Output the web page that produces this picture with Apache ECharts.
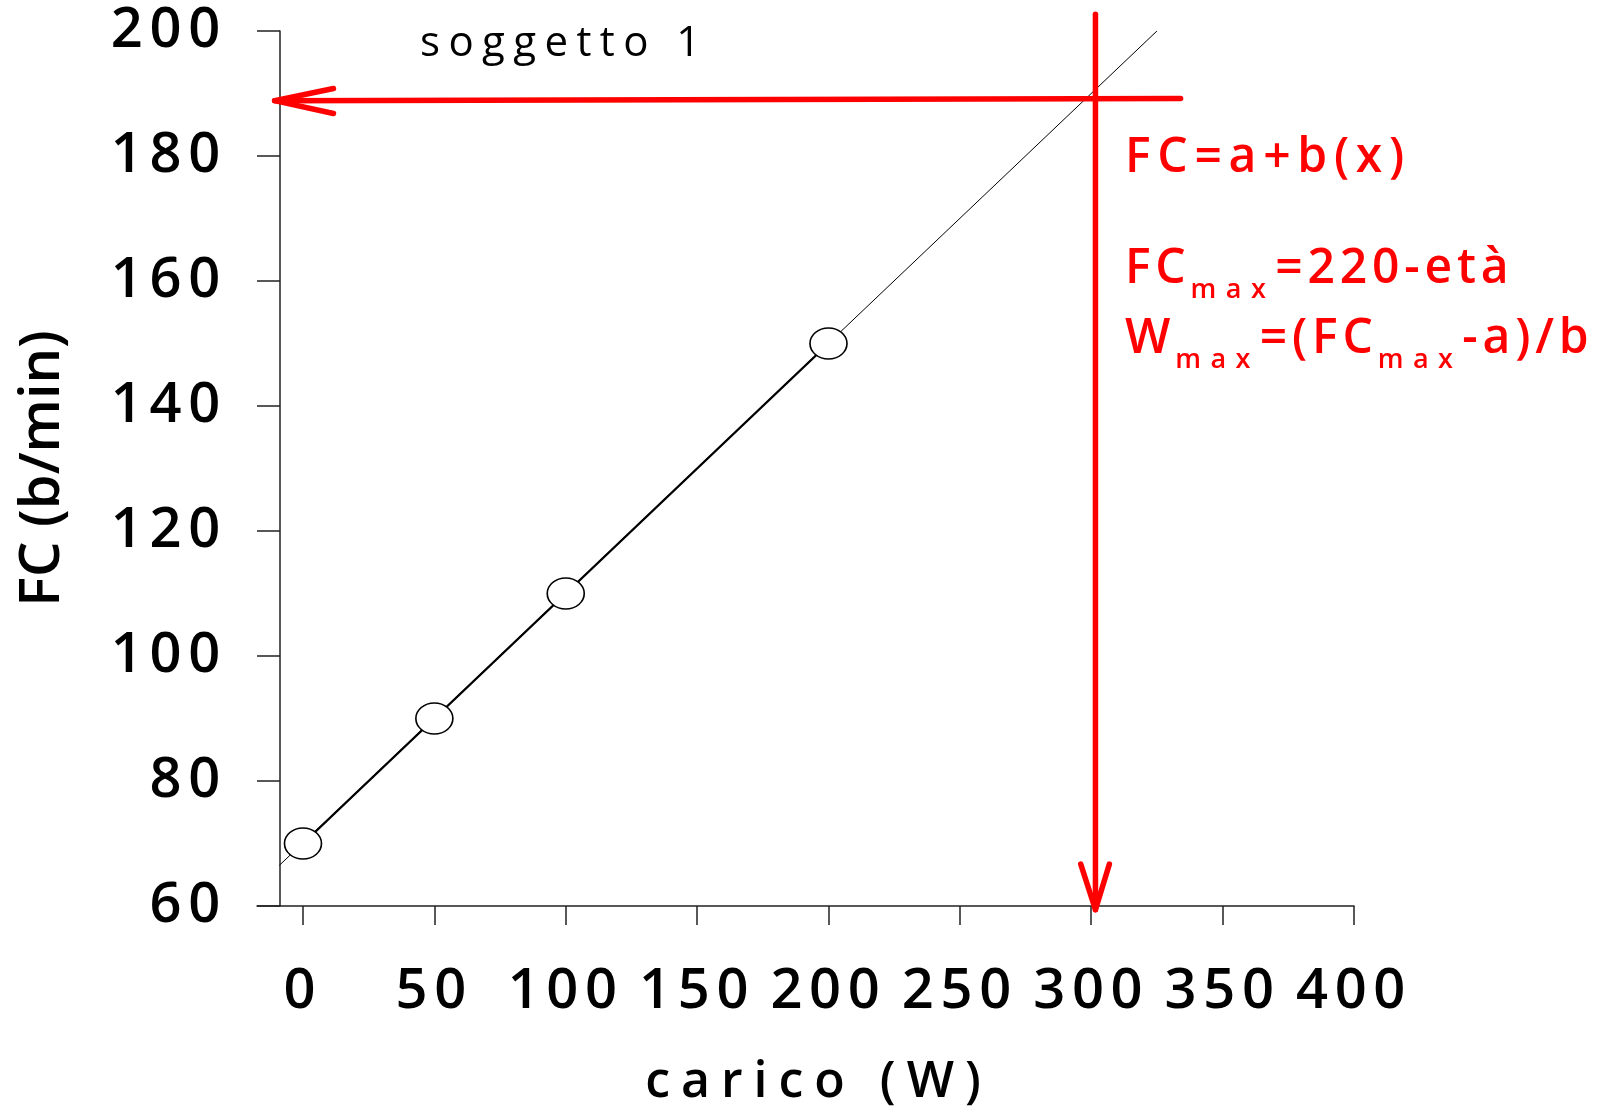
<!DOCTYPE html>
<html>
<head>
<meta charset="utf-8">
<script src="https://cdn.jsdelivr.net/npm/echarts@6/dist/echarts.min.js"></script>
<style>
html,body{margin:0;padding:0;background:#fff;}
#chart{width:1599px;height:1110px;}
</style>
</head>
<body>
<div id="chart"></div>
<script>
// Letter spacing support: a font family tag "lsNN" means spacing of NN% of the font size.
(function () {
  if (!window.CanvasRenderingContext2D) return;
  var P = CanvasRenderingContext2D.prototype;
  function applySpacing(ctx) {
    if (!('letterSpacing' in ctx)) return;
    var f = ctx.font || '';
    var m = f.match(/ls(\d+)/);
    var s = f.match(/(\d+(?:\.\d+)?)px/);
    ctx.letterSpacing = (m && s) ? (parseFloat(s[1]) * parseInt(m[1], 10) / 100).toFixed(2) + 'px' : '0px';
  }
  var om = P.measureText, ofl = P.fillText, ost = P.strokeText;
  P.measureText = function (t) { applySpacing(this); return om.call(this, t); };
  P.fillText = function () { applySpacing(this); return ofl.apply(this, arguments); };
  P.strokeText = function () { applySpacing(this); return ost.apply(this, arguments); };
})();

// ---- data ----
var loadW = [0, 50, 100, 200];           // carico (W)
var heartRate = [70, 90, 110, 150];      // FC (b/min)
var trendLoad = [-9, 325];               // regression line ends
var trendRate = [66.5, 200];
var xTicks = [0, 50, 100, 150, 200, 250, 300, 350, 400];
var yTicks = [60, 80, 100, 120, 140, 160, 180, 200];
var xRange = [-17.5, 400];
// red arrows: FCmax read back to the FC axis, Wmax read down to the load axis
var hArrowLoad = [334, -10.8];
var hArrowRate = [189.2, 188.85];
var hHeadLoad = [11.6, -10.8, 11.6];
var hHeadRate = [190.8, 188.85, 186.8];
var vArrowLoad = [301.6, 301.6];
var vArrowRate = [202.7, 59.4];
var vHeadLoad = [296.0, 301.6, 306.9];
var vHeadRate = [66.7, 59.4, 66.7];
// texts
var subjectLabel = 'soggetto 1';
var xName = 'carico (W)';
var yName = 'FC (b/min)';
var formula1 = '{w|FC=a+b(x)}';
var formula2 = '{n|FC}{s|max}{n|=220-età}';
var formula3 = '{n|W}{s|max}{n|=(FC}{s|max}{n|-a)/b}';

function zip(xs, ys) { return xs.map(function (x, i) { return [x, ys[i]]; }); }

var F_TICK = "'Open Sans', ls12";
var F_YNAME = "'Open Sans'";
var F_XNAME = "'Open Sans', ls22";
var F_SUBJ = "'Open Sans', ls20";
var F_RED = "'Open Sans', ls10";
var F_RED1 = "'Open Sans', ls14";
var F_SUB = "'Open Sans', ls35";
var RED = '#ff0000';
var AX = '#222';
var W_TXT = 600;

var redRich = {
  n: { fontSize: 48, fontWeight: W_TXT, fontFamily: F_RED, color: RED, lineHeight: 80, verticalAlign: 'middle' },
  w: { fontSize: 48, fontWeight: W_TXT, fontFamily: F_RED1, color: RED, lineHeight: 60, verticalAlign: 'middle' },
  s: { fontSize: 27, fontWeight: W_TXT, fontFamily: F_SUB, color: RED, lineHeight: 6, verticalAlign: 'bottom' }
};

function redLine(load, rate) {
  return {
    type: 'line', data: zip(load, rate), symbol: 'none', clip: false, silent: true, z: 5,
    lineStyle: { color: RED, width: 5.5, cap: 'round', join: 'round' }
  };
}

var chart = echarts.init(document.getElementById('chart'), null, { renderer: 'canvas' });
chart.setOption({
  animation: false,
  backgroundColor: '#fff',
  title: [
    { text: subjectLabel, left: 420, top: 23, padding: 0,
      textStyle: { fontSize: 42, fontWeight: 'normal', fontFamily: F_SUBJ, color: '#000', lineHeight: 42 } },
    { text: formula1, left: 1125, top: 128, padding: 0, textStyle: { rich: redRich } },
    { text: formula2, left: 1125, top: 229, padding: 0, textStyle: { rich: redRich } },
    { text: formula3, left: 1125, top: 299, padding: 0, textStyle: { rich: redRich } }
  ],
  grid: { left: 257, right: 245, top: 31, bottom: 204, containLabel: false, outerBoundsMode: 'none' },
  xAxis: {
    type: 'value', min: xRange[0], max: xRange[1],
    splitLine: { show: false },
    axisLine: { show: true, onZero: false, lineStyle: { color: AX, width: 1.5 } },
    axisTick: { show: true, length: 19, customValues: xTicks, lineStyle: { color: AX, width: 1.5 } },
    axisLabel: { customValues: xTicks, margin: 58, fontSize: 56, fontWeight: W_TXT, fontFamily: F_TICK,
      color: '#000', lineHeight: 56 },
    name: xName, nameLocation: 'middle', nameGap: 152,
    nameTextStyle: { fontSize: 50, fontWeight: W_TXT, fontFamily: F_XNAME, color: '#000', lineHeight: 50,
      padding: [0, 0, 0, 26] }
  },
  yAxis: {
    type: 'value', min: yTicks[0], max: yTicks[yTicks.length - 1], interval: yTicks[1] - yTicks[0],
    offset: -23,
    splitLine: { show: false },
    axisLine: { show: true, onZero: false, lineStyle: { color: AX, width: 1.5 } },
    axisTick: { show: true, length: 23, lineStyle: { color: AX, width: 1.5 } },
    axisLabel: { margin: 53, fontSize: 56, fontWeight: W_TXT, fontFamily: F_TICK, color: '#000', lineHeight: 56,
      padding: [14, 0, 0, 0] },
    name: yName, nameLocation: 'middle', nameGap: 209, nameRotate: 90,
    nameTextStyle: { fontSize: 56, fontWeight: W_TXT, fontFamily: F_YNAME, color: '#000', lineHeight: 56 }
  },
  series: [
    { type: 'line', data: zip(trendLoad, trendRate), symbol: 'none', silent: true, z: 2,
      lineStyle: { color: '#000', width: 1 } },
    { type: 'line', data: zip(loadW, heartRate), z: 3, silent: true,
      symbol: 'path://M0,50 A50,50 0 1,1 100,50 A50,50 0 1,1 0,50 Z', symbolSize: [37, 31],
      itemStyle: { color: '#fff', borderColor: '#000', borderWidth: 1.5 },
      lineStyle: { color: '#000', width: 2.4 } },
    redLine(hArrowLoad, hArrowRate),
    redLine(hHeadLoad, hHeadRate),
    redLine(vArrowLoad, vArrowRate),
    redLine(vHeadLoad, vHeadRate)
  ]
});
</script>
</body>
</html>
